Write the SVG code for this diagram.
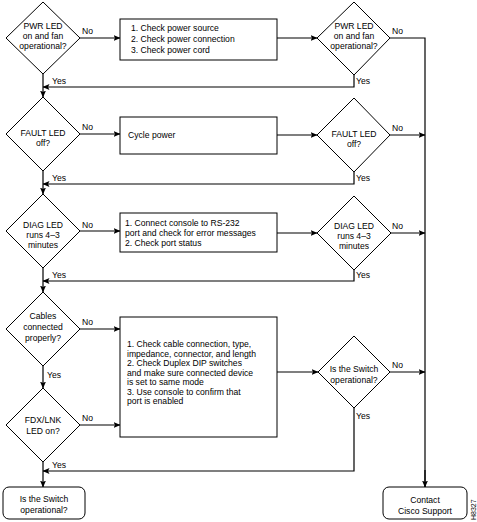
<svg xmlns="http://www.w3.org/2000/svg" width="477" height="522" viewBox="0 0 477 522">
<defs>
<marker id="ah" markerWidth="7" markerHeight="6" refX="6.5" refY="3" orient="auto" markerUnits="userSpaceOnUse">
<path d="M0,0 L7,3 L0,6 L1.5,3 z" fill="#000"/>
</marker>
<style>
text{font-family:"Liberation Sans",Arial,sans-serif;font-size:8.6px;fill:#000}
.c{text-anchor:middle}
.shape{fill:#fff;stroke:#000;stroke-width:1}
.ln{fill:none;stroke:#000;stroke-width:1.2;marker-end:url(#ah)}
.pl{fill:none;stroke:#000;stroke-width:1.2}
</style>
</defs>
<rect width="477" height="522" fill="#fff"/>

<g id="connectors">
<path class="ln" d="M80,38 H120"/>
<path class="ln" d="M277,38 H317"/>
<path class="pl" d="M390,38 H425 V487"/>
<path class="ln" d="M425,470 V487"/>
<path class="ln" d="M354,75 V87 H43"/>
<path class="ln" d="M43,74 V97"/>

<path class="ln" d="M80,134 H120"/>
<path class="ln" d="M277,135 H317"/>
<path class="ln" d="M390,135 H425"/>
<path class="ln" d="M354,172 V184 H43"/>
<path class="ln" d="M43,171 V194"/>

<path class="ln" d="M80,231 H120"/>
<path class="ln" d="M277,233 H317"/>
<path class="ln" d="M391,233 H425"/>
<path class="ln" d="M354,270 V281 H43"/>
<path class="ln" d="M43,268 V292"/>

<path class="ln" d="M80,329 H120"/>
<path class="ln" d="M43,366 V388"/>
<path class="ln" d="M80,425 H120"/>
<path class="ln" d="M277,372 H318"/>
<path class="ln" d="M390,372 H425"/>
<path class="ln" d="M354,408 V471 H43"/>
<path class="ln" d="M43,462 V487"/>

<text x="82" y="34">No</text>
<text x="392" y="34">No</text>
<text x="52" y="84">Yes</text>
<text x="356" y="84">Yes</text>
<text x="82" y="130">No</text>
<text x="392" y="131">No</text>
<text x="52" y="181">Yes</text>
<text x="356" y="181">Yes</text>
<text x="82" y="228">No</text>
<text x="392" y="229">No</text>
<text x="52" y="278">Yes</text>
<text x="356" y="278">Yes</text>
<text x="82" y="325">No</text>
<text x="47" y="378">Yes</text>
<text x="82" y="421">No</text>
<text x="392" y="368">No</text>
<text x="356" y="419">Yes</text>
<text x="52" y="468">Yes</text>
</g>

<g id="d1">
<polygon class="shape" points="43,2 80,38 43,74 6,38"/>
<text class="c" x="43" y="29">PWR LED</text>
<text class="c" x="43" y="39">on and fan</text>
<text class="c" x="43" y="49">operational?</text>
</g>
<g id="b1">
<rect class="shape" x="120" y="19" width="157" height="41"/>
<text x="131" y="31">1. Check power source</text>
<text x="131" y="42">2. Check power connection</text>
<text x="131" y="53">3. Check power cord</text>
</g>
<g id="d1r">
<polygon class="shape" points="354,2 390,38 354,75 317,38"/>
<text class="c" x="354" y="29">PWR LED</text>
<text class="c" x="354" y="39">on and fan</text>
<text class="c" x="354" y="49">operational?</text>
</g>

<g id="d2">
<polygon class="shape" points="43,97 80,134 43,171 6,134"/>
<text class="c" x="43" y="136">FAULT LED</text>
<text class="c" x="43" y="146">off?</text>
</g>
<g id="b2">
<rect class="shape" x="120" y="117" width="157" height="37"/>
<text x="128" y="138">Cycle power</text>
</g>
<g id="d2r">
<polygon class="shape" points="354,98 390,135 354,172 317,135"/>
<text class="c" x="354" y="137">FAULT LED</text>
<text class="c" x="354" y="147">off?</text>
</g>

<g id="d3">
<polygon class="shape" points="43,194 80,231 43,268 6,231"/>
<text class="c" x="43" y="228">DIAG LED</text>
<text class="c" x="43" y="238">runs 4–3</text>
<text class="c" x="43" y="248">minutes</text>
</g>
<g id="b3">
<rect class="shape" x="120" y="213" width="157" height="39"/>
<text x="125" y="226">1. Connect console to RS-232</text>
<text x="125" y="236">port and check for error messages</text>
<text x="125" y="246">2. Check port status</text>
</g>
<g id="d3r">
<polygon class="shape" points="354,196 391,233 354,270 317,233"/>
<text class="c" x="354" y="229">DIAG LED</text>
<text class="c" x="354" y="239">runs 4–3</text>
<text class="c" x="354" y="249">minutes</text>
</g>

<g id="d4">
<polygon class="shape" points="43,292 80,329 43,366 6,329"/>
<text class="c" x="43" y="319">Cables</text>
<text class="c" x="43" y="330">connected</text>
<text class="c" x="43" y="341">properly?</text>
</g>
<g id="b4">
<rect class="shape" x="120" y="317" width="157" height="120"/>
<text x="127" y="347">1. Check cable connection, type,</text>
<text x="127" y="357">impedance, connector, and length</text>
<text x="127" y="366">2. Check Duplex DIP switches</text>
<text x="127" y="376">and  make sure connected device</text>
<text x="127" y="385">is set to same mode</text>
<text x="127" y="395">3. Use console to confirm that</text>
<text x="127" y="404">port is enabled</text>
</g>
<g id="d5">
<polygon class="shape" points="43,388 80,425 43,462 6,425"/>
<text class="c" x="43" y="423">FDX/LNK</text>
<text class="c" x="43" y="434">LED on?</text>
</g>
<g id="d4r">
<polygon class="shape" points="354,336 390,372 354,408 318,372"/>
<text class="c" x="354" y="372">Is the Switch</text>
<text class="c" x="354" y="383">operational?</text>
</g>

<g id="t1">
<rect class="shape" x="3" y="487" width="82" height="32" rx="6"/>
<text class="c" x="44" y="502">Is the Switch</text>
<text class="c" x="44" y="513">operational?</text>
</g>
<g id="t2">
<rect class="shape" x="383" y="487" width="84" height="32" rx="6"/>
<text class="c" x="425" y="503">Contact</text>
<text class="c" x="425" y="514">Cisco Support</text>
</g>
<text transform="translate(476,520) rotate(-90)" style="font-size:7px">H8327</text>
</svg>
